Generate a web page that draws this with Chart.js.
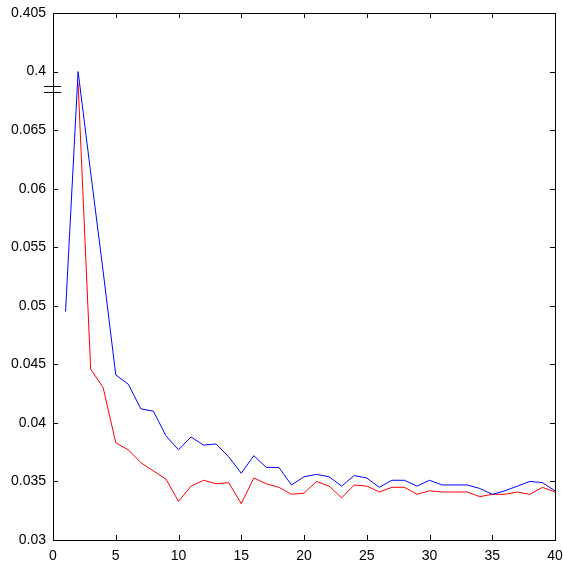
<!DOCTYPE html>
<html>
<head>
<meta charset="utf-8">
<script src="https://cdn.jsdelivr.net/npm/chart.js@4/dist/chart.umd.min.js"></script>
<style>
  html, body { margin: 0; padding: 0; background: #fff; }
  #wrap { width: 563px; height: 572px; }
</style>
</head>
<body>
<div id="wrap"><canvas id="chart"></canvas></div>
<script>
// ── Data ──
const blueX = [1,2,3,4,5,6,7,8,9,10,11,12,13,14,15,16,17,18,19,20,21,22,23,24,25,26,27,28,29,30,31,32,33,34,35,36,37,38,39,40];
const blueY = [0.0495,0.400,0.0614,0.0529,0.0441,0.0433,0.0412,0.0410,0.0389,0.0377,0.0388,0.0381,0.0382,0.0371,0.0357,0.0372,0.0362,0.0362,0.0347,0.0354,
               0.0356,0.0354,0.0346,0.0355,0.0353,0.0345,0.0351,0.0351,0.0346,0.0351,0.0347,0.0347,0.0347,0.0344,0.0339,0.0342,0.0346,0.0350,0.0349,0.0342];
const redX = [2,3,4,5,6,7,8,9,10,11,12,13,14,15,16,17,18,19,20,21,22,23,24,25,26,27,28,29,30,31,32,33,34,35,36,37,38,39,40];
const redY = [0.399,0.0446,0.0430,0.0383,0.0377,0.0366,0.0359,0.0352,0.0333,0.0346,0.0351,0.0348,0.0349,0.0331,0.0353,0.0348,0.0345,0.0339,0.0340,
              0.0350,0.0346,0.0336,0.0347,0.0346,0.0341,0.0345,0.0345,0.0339,0.0342,0.0341,0.0341,0.0341,0.0337,0.0339,0.0339,0.0341,0.0339,0.0345,0.0341];
const xTicks = [0,5,10,15,20,25,30,35,40];

// ── Broken y axis: values above the break are shifted down by 0.33 ──
const BREAK_AT = 0.0685, SHIFT = 0.33;
function toAxis(v) { return v > 0.2 ? v - SHIFT : v; }
function toLabel(t) {
  const v = t > BREAK_AT ? t + SHIFT : t;
  return String(parseFloat(v.toFixed(4)));
}
function pts(xs, ys) { return xs.map((x, i) => ({ x, y: toAxis(ys[i]) })); }

const FONT = { family: "'Liberation Sans', Arial, sans-serif", size: 14 };

// ── Box, inward ticks and break marks ──
const boxPlugin = {
  id: "box",
  afterDraw(c) {
    const { ctx, chartArea: a, scales: { x, y } } = c;
    ctx.save();
    ctx.strokeStyle = "#000";
    ctx.lineWidth = 1;
    ctx.strokeRect(a.left + 0.5, a.top + 0.5, a.right - a.left, a.bottom - a.top);
    const len = 5;
    ctx.beginPath();
    xTicks.forEach(v => {
      const px = Math.round(x.getPixelForValue(v)) + 0.5;
      ctx.moveTo(px, a.bottom); ctx.lineTo(px, a.bottom - len);
      ctx.moveTo(px, a.top);    ctx.lineTo(px, a.top + len);
    });
    y.ticks.forEach(t => {
      const py = Math.round(y.getPixelForValue(t.value)) + 0.5;
      ctx.moveTo(a.left, py);  ctx.lineTo(a.left + len, py);
      ctx.moveTo(a.right, py); ctx.lineTo(a.right - len, py);
    });
    ctx.stroke();
    // break marks
    const by = y.getPixelForValue(BREAK_AT);
    ctx.beginPath();
    ctx.moveTo(a.left - 9, Math.round(by - 3) + 0.5); ctx.lineTo(a.left + 8, Math.round(by - 3) + 0.5);
    ctx.moveTo(a.left - 9, Math.round(by + 3) + 0.5); ctx.lineTo(a.left + 8, Math.round(by + 3) + 0.5);
    ctx.stroke();
    ctx.restore();
  }
};

new Chart(document.getElementById("chart"), {
  type: "line",
  data: {
    datasets: [
      { data: pts(blueX, blueY), borderColor: "#0000ff", borderWidth: 1, pointRadius: 0, tension: 0 },
      { data: pts(redX, redY),   borderColor: "#ff0000", borderWidth: 1, pointRadius: 0, tension: 0 }
    ]
  },
  options: {
    responsive: true, maintainAspectRatio: false, animation: false,
    layout: { padding: { top: 13, right: 8, left: 0, bottom: 0 } },
    plugins: { legend: { display: false }, tooltip: { enabled: false } },
    scales: {
      x: {
        type: "linear", min: 0, max: 40,
        afterBuildTicks: s => { s.ticks = xTicks.map(v => ({ value: v })); },
        afterFit: s => { s.height = 32; s.paddingLeft = 0; s.paddingRight = 0; },
        grid: { display: false, drawTicks: false },
        border: { display: false },
        ticks: { color: "#000", font: FONT, padding: 8, maxRotation: 0 }
      },
      y: {
        type: "linear", min: 0.03, max: 0.075,
        afterBuildTicks: s => {
          const t = [];
          for (let k = 0; k <= 9; k++) {
            const v = +(0.03 + k * 0.005).toFixed(4);
            if (v === 0.07 || v === 0.075 || v <= 0.065) t.push({ value: v });
          }
          s.ticks = t;
        },
        afterFit: s => { s.width = 53; s.paddingTop = 0; s.paddingBottom = 0; },
        grid: { display: false, drawTicks: false },
        border: { display: false },
        ticks: { color: "#000", font: FONT, padding: 7, callback: v => toLabel(v) }
      }
    }
  },
  plugins: [boxPlugin]
});
</script>
</body>
</html>
